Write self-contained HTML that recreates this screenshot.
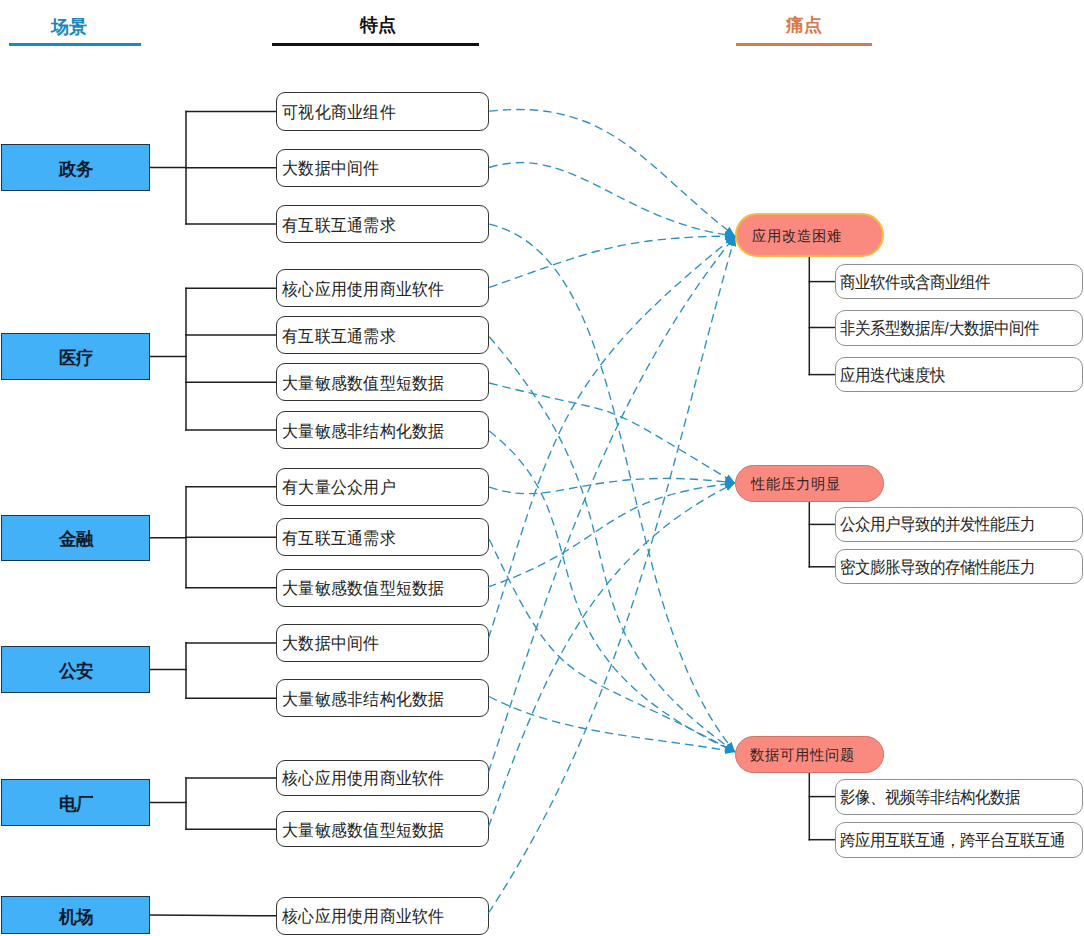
<!DOCTYPE html>
<html><head><meta charset="utf-8"><style>
html,body{margin:0;padding:0;background:#fff;}
body{width:1084px;height:936px;position:relative;overflow:hidden;font-family:"Liberation Sans",sans-serif;}
.a{position:absolute;box-sizing:border-box;}
.hd{position:absolute;font-weight:bold;font-size:18px;line-height:20px;white-space:nowrap;}
.ul{position:absolute;height:2.7px;}
.sc{position:absolute;box-sizing:border-box;left:1px;width:149px;background:#42b1f8;border:1.3px solid #173650;font-weight:bold;font-size:17px;color:#0c1a2c;display:flex;align-items:center;justify-content:center;}
.ft{position:absolute;box-sizing:border-box;left:276px;width:213px;background:#fff;border:1.6px solid #333;border-radius:9px;font-size:16px;letter-spacing:0.25px;color:#222;display:flex;align-items:center;padding-left:5px;white-space:nowrap;}
.pl{position:absolute;box-sizing:border-box;left:735px;width:149px;background:#fa8a80;border-radius:30px;font-size:14.6px;color:#3a1f1c;display:flex;align-items:center;padding-left:14.5px;white-space:nowrap;}
.sb{position:absolute;box-sizing:border-box;left:835px;width:247.5px;background:#fff;border:1px solid #909090;border-radius:10px;font-size:15px;color:#222;display:flex;align-items:center;padding-left:3.5px;white-space:nowrap;}
svg{position:absolute;left:0;top:0;}
.t{display:inline-block;position:relative;}
.sc .t{top:2px;transform:scaleY(1.03);}
.ft .t{top:2px;transform:scaleY(1.07);}
.pl .t{top:1px;transform:scaleY(1.05);}
.sb .t{top:1.5px;transform:scaleY(1.1);}
</style></head><body>

<div class="hd" style="left:51px;top:17px;color:#1a88be;">场景</div>
<div class="ul" style="left:9px;top:43px;width:132px;background:#1a8ac2;"></div>
<div class="hd" style="left:360px;top:15px;color:#111;">特点</div>
<div class="ul" style="left:272px;top:43px;width:207px;background:#111;"></div>
<div class="hd" style="left:786px;top:15px;color:#d9784a;">痛点</div>
<div class="ul" style="left:736px;top:43px;width:136px;background:#d67a52;"></div>
<svg width="1084" height="936" viewBox="0 0 1084 936">
<path d="M150 167.5 H186" stroke="#1e1e1e" stroke-width="1.5" fill="none" stroke-linecap="square"/>
<path d="M186 111.6 V224.1" stroke="#1e1e1e" stroke-width="1.5" fill="none" stroke-linecap="square"/>
<path d="M186 111.6 H276" stroke="#1e1e1e" stroke-width="1.5" fill="none" stroke-linecap="square"/>
<path d="M186 167.7 H276" stroke="#1e1e1e" stroke-width="1.5" fill="none" stroke-linecap="square"/>
<path d="M186 224.1 H276" stroke="#1e1e1e" stroke-width="1.5" fill="none" stroke-linecap="square"/>
<path d="M150 356.5 H186" stroke="#1e1e1e" stroke-width="1.5" fill="none" stroke-linecap="square"/>
<path d="M186 288.2 V430.1" stroke="#1e1e1e" stroke-width="1.5" fill="none" stroke-linecap="square"/>
<path d="M186 288.2 H276" stroke="#1e1e1e" stroke-width="1.5" fill="none" stroke-linecap="square"/>
<path d="M186 335.1 H276" stroke="#1e1e1e" stroke-width="1.5" fill="none" stroke-linecap="square"/>
<path d="M186 382.3 H276" stroke="#1e1e1e" stroke-width="1.5" fill="none" stroke-linecap="square"/>
<path d="M186 430.1 H276" stroke="#1e1e1e" stroke-width="1.5" fill="none" stroke-linecap="square"/>
<path d="M150 537.8 H186" stroke="#1e1e1e" stroke-width="1.5" fill="none" stroke-linecap="square"/>
<path d="M186 486.8 V587.8" stroke="#1e1e1e" stroke-width="1.5" fill="none" stroke-linecap="square"/>
<path d="M186 486.8 H276" stroke="#1e1e1e" stroke-width="1.5" fill="none" stroke-linecap="square"/>
<path d="M186 537.3 H276" stroke="#1e1e1e" stroke-width="1.5" fill="none" stroke-linecap="square"/>
<path d="M186 587.8 H276" stroke="#1e1e1e" stroke-width="1.5" fill="none" stroke-linecap="square"/>
<path d="M150 669.5 H186" stroke="#1e1e1e" stroke-width="1.5" fill="none" stroke-linecap="square"/>
<path d="M186 643.0 V698.2" stroke="#1e1e1e" stroke-width="1.5" fill="none" stroke-linecap="square"/>
<path d="M186 643.0 H276" stroke="#1e1e1e" stroke-width="1.5" fill="none" stroke-linecap="square"/>
<path d="M186 698.2 H276" stroke="#1e1e1e" stroke-width="1.5" fill="none" stroke-linecap="square"/>
<path d="M150 802.5 H186" stroke="#1e1e1e" stroke-width="1.5" fill="none" stroke-linecap="square"/>
<path d="M186 778.0 V829.3" stroke="#1e1e1e" stroke-width="1.5" fill="none" stroke-linecap="square"/>
<path d="M186 778.0 H276" stroke="#1e1e1e" stroke-width="1.5" fill="none" stroke-linecap="square"/>
<path d="M186 829.3 H276" stroke="#1e1e1e" stroke-width="1.5" fill="none" stroke-linecap="square"/>
<path d="M150 915.0 L276 915.8" stroke="#1e1e1e" stroke-width="1.5" fill="none" stroke-linecap="square"/>
<path d="M809.3 257.0 V374.6" stroke="#1e1e1e" stroke-width="1.5" fill="none" stroke-linecap="square"/>
<path d="M809.3 281.6 H836" stroke="#1e1e1e" stroke-width="1.5" fill="none" stroke-linecap="square"/>
<path d="M809.3 327.5 H836" stroke="#1e1e1e" stroke-width="1.5" fill="none" stroke-linecap="square"/>
<path d="M809.3 374.6 H836" stroke="#1e1e1e" stroke-width="1.5" fill="none" stroke-linecap="square"/>
<path d="M809.3 502.0 V566.8" stroke="#1e1e1e" stroke-width="1.5" fill="none" stroke-linecap="square"/>
<path d="M809.3 524.4 H836" stroke="#1e1e1e" stroke-width="1.5" fill="none" stroke-linecap="square"/>
<path d="M809.3 566.8 H836" stroke="#1e1e1e" stroke-width="1.5" fill="none" stroke-linecap="square"/>
<path d="M809.3 772.6 V839.7" stroke="#1e1e1e" stroke-width="1.5" fill="none" stroke-linecap="square"/>
<path d="M809.3 796.6 H836" stroke="#1e1e1e" stroke-width="1.5" fill="none" stroke-linecap="square"/>
<path d="M809.3 839.7 H836" stroke="#1e1e1e" stroke-width="1.5" fill="none" stroke-linecap="square"/>
</svg>
<div class="sc" style="top:144px;height:47px;"><span class="t">政务</span></div>
<div class="sc" style="top:333px;height:47px;"><span class="t">医疗</span></div>
<div class="sc" style="top:514.5px;height:46.5px;"><span class="t">金融</span></div>
<div class="sc" style="top:646px;height:47px;"><span class="t">公安</span></div>
<div class="sc" style="top:779px;height:47px;"><span class="t">电厂</span></div>
<div class="sc" style="top:896px;height:38px;"><span class="t">机场</span></div>
<div class="ft" style="top:92.3px;height:38.5px;"><span class="t">可视化商业组件</span></div>
<div class="ft" style="top:148.5px;height:38.3px;"><span class="t">大数据中间件</span></div>
<div class="ft" style="top:204.8px;height:38.5px;"><span class="t">有互联互通需求</span></div>
<div class="ft" style="top:269.3px;height:37.9px;"><span class="t">核心应用使用商业软件</span></div>
<div class="ft" style="top:316px;height:38.1px;"><span class="t">有互联互通需求</span></div>
<div class="ft" style="top:363.4px;height:37.8px;"><span class="t">大量敏感数值型短数据</span></div>
<div class="ft" style="top:411px;height:38.3px;"><span class="t">大量敏感非结构化数据</span></div>
<div class="ft" style="top:467.8px;height:38.0px;"><span class="t">有大量公众用户</span></div>
<div class="ft" style="top:518.3px;height:38.1px;"><span class="t">有互联互通需求</span></div>
<div class="ft" style="top:568.9px;height:37.8px;"><span class="t">大量敏感数值型短数据</span></div>
<div class="ft" style="top:623.9px;height:38.1px;"><span class="t">大数据中间件</span></div>
<div class="ft" style="top:679.4px;height:37.6px;"><span class="t">大量敏感非结构化数据</span></div>
<div class="ft" style="top:759.9px;height:36.1px;"><span class="t">核心应用使用商业软件</span></div>
<div class="ft" style="top:811.3px;height:36.1px;"><span class="t">大量敏感数值型短数据</span></div>
<div class="ft" style="top:896.7px;height:38.1px;"><span class="t">核心应用使用商业软件</span></div>
<div class="pl" style="top:213px;height:44.0px;border:2px solid #f5bd3c;"><span class="t">应用改造困难</span></div>
<div class="sb" style="top:263.6px;height:35.9px;"><span class="t">商业软件或含商业组件</span></div>
<div class="sb" style="top:309.5px;height:36.0px;"><span class="t">非关系型数据库/大数据中间件</span></div>
<div class="sb" style="top:356.6px;height:35.9px;"><span class="t">应用迭代速度快</span></div>
<div class="pl" style="top:465.3px;height:36.7px;border:1px solid #cf7564;"><span class="t">性能压力明显</span></div>
<div class="sb" style="top:506.5px;height:35.7px;"><span class="t">公众用户导致的并发性能压力</span></div>
<div class="sb" style="top:549.3px;height:34.9px;"><span class="t">密文膨胀导致的存储性能压力</span></div>
<div class="pl" style="top:735.8px;height:36.8px;border:1px solid #cf7564;padding-left:13.5px;"><span class="t">数据可用性问题</span></div>
<div class="sb" style="top:778.5px;height:36.2px;"><span class="t">影像、视频等非结构化数据</span></div>
<div class="sb" style="top:821.6px;height:36.2px;"><span class="t">跨应用互联互通，跨平台互联互通</span></div>
<svg width="1084" height="936" viewBox="0 0 1084 936">
<defs><marker id="ar" markerWidth="12" markerHeight="12" refX="10" refY="6" orient="auto" markerUnits="userSpaceOnUse"><path d="M0 2 L10 6 L0 10 Z" fill="#1a8fcb"/></marker></defs>
<path d="M489.2 111.2 C611.6 97.4 647.0 169.5 735.0 236.0" stroke="#2a90c4" stroke-width="1.35" fill="none" stroke-dasharray="8.5 5" marker-end="url(#ar)"/>
<path d="M489.2 167.5 C571.9 142.3 619.5 221.9 735.0 236.0" stroke="#2a90c4" stroke-width="1.35" fill="none" stroke-dasharray="8.5 5" marker-end="url(#ar)"/>
<path d="M489.2 224.2 C642.1 259.2 610.3 602.7 735.0 752.0" stroke="#2a90c4" stroke-width="1.35" fill="none" stroke-dasharray="8.5 5" marker-end="url(#ar)"/>
<path d="M489.2 287.4 C590.7 251.9 618.3 237.1 735.0 236.0" stroke="#2a90c4" stroke-width="1.35" fill="none" stroke-dasharray="8.5 5" marker-end="url(#ar)"/>
<path d="M489.2 336.7 C662.9 537.3 535.5 609.5 735.0 752.0" stroke="#2a90c4" stroke-width="1.35" fill="none" stroke-dasharray="8.5 5" marker-end="url(#ar)"/>
<path d="M489.2 383.0 C642.1 421.7 584.3 392.2 735.0 483.0" stroke="#2a90c4" stroke-width="1.35" fill="none" stroke-dasharray="8.5 5" marker-end="url(#ar)"/>
<path d="M489.2 431.0 C613.8 528.1 501.9 643.8 735.0 752.0" stroke="#2a90c4" stroke-width="1.35" fill="none" stroke-dasharray="8.5 5" marker-end="url(#ar)"/>
<path d="M489.2 487.1 C555.9 510.0 583.6 464.4 735.0 483.0" stroke="#2a90c4" stroke-width="1.35" fill="none" stroke-dasharray="8.5 5" marker-end="url(#ar)"/>
<path d="M489.2 539.2 C564.9 698.7 563.2 659.5 735.0 752.0" stroke="#2a90c4" stroke-width="1.35" fill="none" stroke-dasharray="8.5 5" marker-end="url(#ar)"/>
<path d="M487.8 587.1 C613.4 543.5 596.9 498.2 735.0 483.0" stroke="#2a90c4" stroke-width="1.35" fill="none" stroke-dasharray="8.5 5" marker-end="url(#ar)"/>
<path d="M488.5 638.3 C554.0 432.8 555.4 379.4 735.0 236.0" stroke="#2a90c4" stroke-width="1.35" fill="none" stroke-dasharray="8.5 5" marker-end="url(#ar)"/>
<path d="M489.2 696.5 C563.1 735.4 653.3 736.8 735.0 752.0" stroke="#2a90c4" stroke-width="1.35" fill="none" stroke-dasharray="8.5 5" marker-end="url(#ar)"/>
<path d="M488.5 772.2 C549.8 585.3 609.7 391.0 735.0 236.0" stroke="#2a90c4" stroke-width="1.35" fill="none" stroke-dasharray="8.5 5" marker-end="url(#ar)"/>
<path d="M488.5 826.8 C540.7 684.3 586.6 555.3 735.0 483.0" stroke="#2a90c4" stroke-width="1.35" fill="none" stroke-dasharray="8.5 5" marker-end="url(#ar)"/>
<path d="M488.5 913.0 C628.8 698.3 667.0 476.6 735.0 236.0" stroke="#2a90c4" stroke-width="1.35" fill="none" stroke-dasharray="8.5 5" marker-end="url(#ar)"/>
</svg>
</body></html>
